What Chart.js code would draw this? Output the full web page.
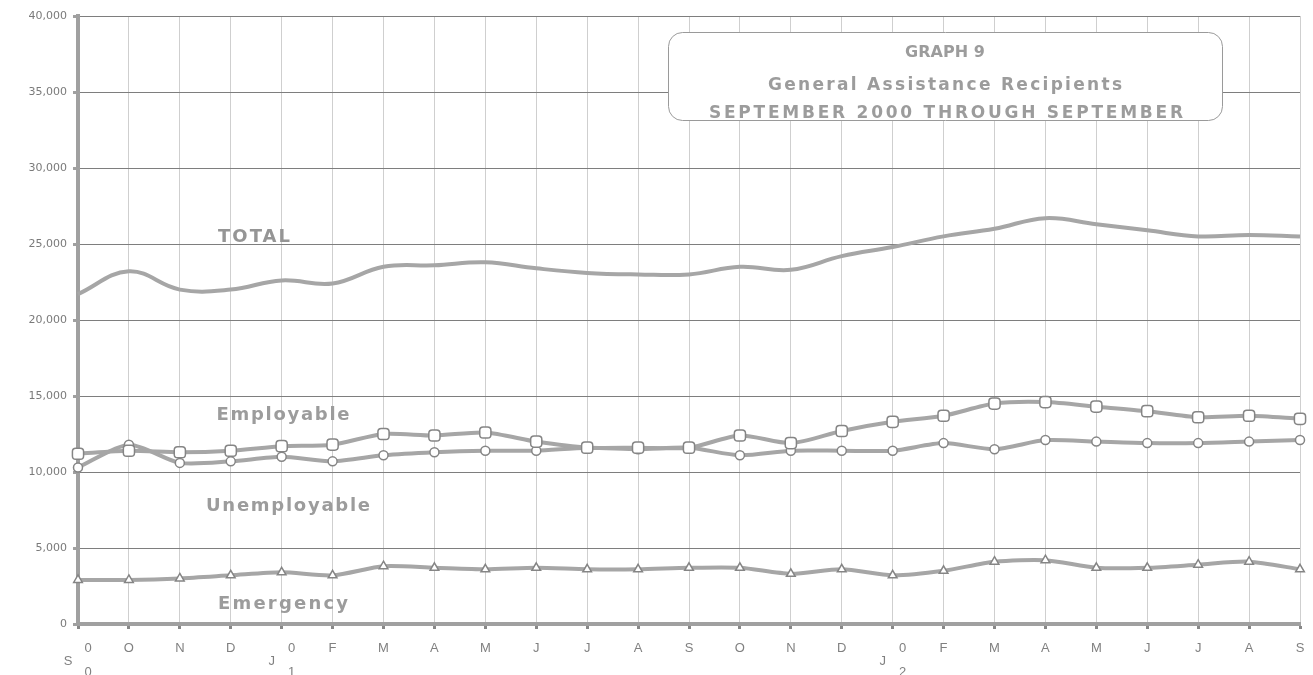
<!DOCTYPE html>
<html>
<head>
<meta charset="utf-8">
<script src="https://cdn.jsdelivr.net/npm/chart.js@4/dist/chart.umd.min.js"></script>
<style>
  html, body { margin: 0; padding: 0; background: #fff; }
  #wrap { width: 1313px; height: 675px; }
</style>
</head>
<body>
<div id="wrap"><canvas id="chart"></canvas></div>
<script>
const months = ['S','O','N','D','J','F','M','A','M','J','J','A','S','O','N','D','J','F','M','A','M','J','J','A','S'];
const yearTags = { 0: ['0', '0'], 4: ['0', '1'], 16: ['0', '2'] };

const total = [21700, 23200, 22000, 22000, 22600, 22400, 23500, 23600, 23800, 23400, 23100, 23000, 23000, 23500, 23300, 24200, 24800, 25500, 26000, 26700, 26300, 25900, 25500, 25600, 25500];
const employable = [11200, 11400, 11300, 11400, 11700, 11800, 12500, 12400, 12600, 12000, 11600, 11600, 11600, 12400, 11900, 12700, 13300, 13700, 14500, 14600, 14300, 14000, 13600, 13700, 13500];
const unemployable = [10300, 11800, 10600, 10700, 11000, 10700, 11100, 11300, 11400, 11400, 11600, 11500, 11600, 11100, 11400, 11400, 11400, 11900, 11500, 12100, 12000, 11900, 11900, 12000, 12100];
const emergency = [2900, 2900, 3000, 3200, 3400, 3200, 3800, 3700, 3600, 3700, 3600, 3600, 3700, 3700, 3300, 3600, 3200, 3500, 4100, 4200, 3700, 3700, 3900, 4100, 3600];

const titleLines = ['GRAPH 9', 'General Assistance Recipients', 'SEPTEMBER 2000 THROUGH SEPTEMBER'];

const LINE = '#a6a6a6';
const MARK = '#858585';
const TEXT = '#9c9c9c';
const BOLD = '"DejaVu Sans", Verdana, sans-serif';

// draw text stretched (or squeezed) to a given width
function fitText(ctx, str, cx, cy, width, font, color) {
  ctx.save();
  ctx.font = font;
  ctx.fillStyle = color;
  ctx.textBaseline = 'middle';
  ctx.textAlign = 'left';
  ctx.letterSpacing = '0px';
  const w = ctx.measureText(str).width;
  if (w >= width) {
    ctx.translate(cx - width / 2, cy);
    ctx.scale(width / w, 1);
    ctx.fillText(str, 0, 0);
  } else {
    ctx.letterSpacing = ((width - w) / (str.length - 1)) + 'px';
    ctx.fillText(str, cx - width / 2, cy);
  }
  ctx.restore();
}

const decorPlugin = {
  id: 'decor',
  afterDraw(chart) {
    const ctx = chart.ctx;
    const x = chart.scales.x;

    // month labels under the axis
    ctx.save();
    ctx.font = '13px "Liberation Sans", Arial, sans-serif';
    ctx.fillStyle = '#808080';
    ctx.textAlign = 'center';
    ctx.textBaseline = 'middle';
    months.forEach((m, i) => {
      const px = x.getPixelForValue(i);
      const tag = yearTags[i];
      if (tag) {
        ctx.fillText(m, px - 10, 661);
        ctx.fillText(tag[0], px + 10, 648);
        ctx.fillText(tag[1], px + 10, 672);
      } else {
        ctx.fillText(m, px, 648);
      }
    });
    ctx.restore();

    // title box
    ctx.save();
    ctx.beginPath();
    ctx.roundRect(668.5, 32.5, 554, 88, 14);
    ctx.fillStyle = '#fff';
    ctx.fill();
    ctx.strokeStyle = '#9a9a9a';
    ctx.lineWidth = 1;
    ctx.stroke();
    ctx.restore();
    const f17 = 'bold 17px ' + BOLD;
    fitText(ctx, titleLines[0], 945, 53, 80, 'bold 16px ' + BOLD, TEXT);
    fitText(ctx, titleLines[1], 945, 86, 354, f17, TEXT);
    fitText(ctx, titleLines[2], 946, 114, 474, f17, TEXT);

    // series names inside the plot
    const f18 = 'bold 18px ' + BOLD;
    fitText(ctx, 'TOTAL', 254, 237, 72, f18, '#959595');
    fitText(ctx, 'Employable', 283, 415, 133, f18, TEXT);
    fitText(ctx, 'Unemployable', 288, 506, 164, f18, TEXT);
    fitText(ctx, 'Emergency', 283, 604, 130, f18, TEXT);
  }
};

function series(label, data, style, size, tension) {
  return {
    label, data,
    borderColor: LINE,
    borderWidth: 4,
    tension,
    pointStyle: style,
    pointRadius: size,
    pointBorderWidth: 1.5,
    pointBorderColor: MARK,
    pointBackgroundColor: '#fff',
    fill: false
  };
}

new Chart(document.getElementById('chart'), {
  type: 'line',
  data: {
    labels: months,
    datasets: [
      series('TOTAL', total, false, 0, 0.4),
      series('Employable', employable, 'rectRounded', 6.5, 0.25),
      series('Unemployable', unemployable, 'circle', 4.5, 0.25),
      series('Emergency', emergency, 'triangle', 5, 0.25)
    ]
  },
  options: {
    responsive: true,
    maintainAspectRatio: false,
    animation: false,
    layout: { padding: { top: 16, right: 13, left: 0, bottom: 0 } },
    plugins: { legend: { display: false }, tooltip: { enabled: false } },
    scales: {
      x: {
        offset: false,
        ticks: { display: false },
        grid: { color: '#cfcfcf', lineWidth: 1, tickLength: 5, tickColor: '#888', tickWidth: 3 },
        border: { color: '#a0a0a0', width: 4 },
        afterFit(scale) { scale.height = 51; }
      },
      y: {
        min: 0,
        max: 40000,
        ticks: {
          stepSize: 5000,
          color: '#7a7a7a',
          padding: 6,
          font: { family: '"DejaVu Sans", Verdana, sans-serif', size: 11 },
          callback: (v) => v.toLocaleString('en-US')
        },
        grid: { color: '#7e7e7e', lineWidth: 1, tickLength: 5, tickColor: '#a0a0a0', tickWidth: 3 },
        border: { color: '#a0a0a0', width: 4 },
        afterFit(scale) { scale.width = 78; }
      }
    }
  },
  plugins: [decorPlugin]
});
</script>
</body>
</html>
